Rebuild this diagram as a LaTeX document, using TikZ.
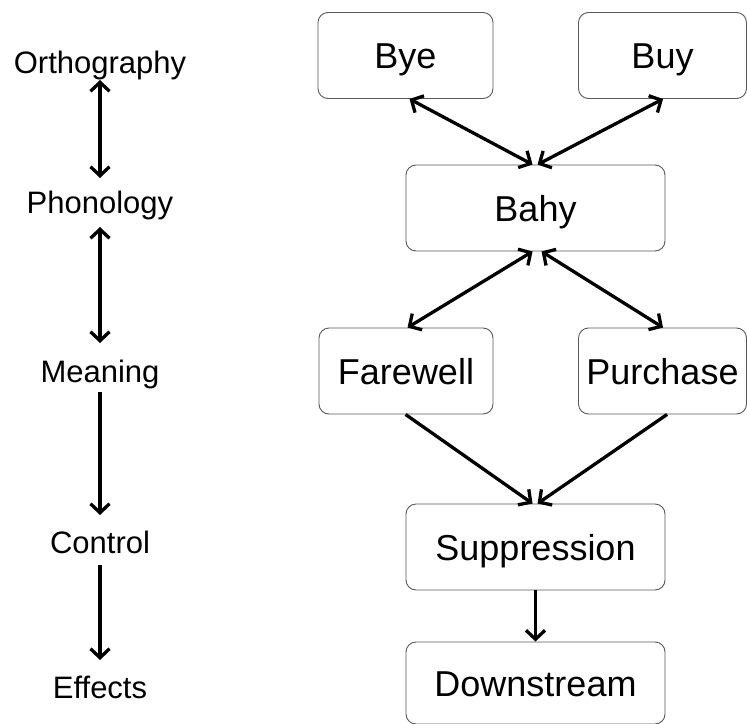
\documentclass[tikz,border=0pt]{standalone}
\usepackage{fontspec}
\setmainfont{Liberation Sans}
\usetikzlibrary{arrows.meta}
\begin{document}
\begin{tikzpicture}[x=1pt,y=-1pt,
  wbox/.style={draw=black!65,line width=0.9pt,rounded corners=10pt,fill=white,
    minimum height=86pt,inner sep=0pt,font=\fontsize{36}{40}\selectfont,
    text height=26pt,text depth=0pt},
  lab/.style={anchor=base,inner sep=0pt,font=\fontsize{31}{36}\selectfont},
  tip/.style={},
  arr/.style={line width=3.3pt,-{Straight Barb[length=9pt,width=19pt]}},
  darr/.style={line width=3.3pt,{Straight Barb[length=9pt,width=19pt]}-{Straight Barb[length=9pt,width=19pt]}}]
\useasboundingbox[fill=white] (0,0) rectangle (747,723);
% right-hand boxes
\node[wbox,minimum width=175pt] (bye) at (405.5,55.5) {Bye};
\node[wbox,minimum width=168pt] (buy) at (662.5,55.5) {Buy};
\node[wbox,minimum width=259pt] (bahy) at (535.5,208) {Bahy};
\node[wbox,minimum width=174pt] (farewell) at (406,371) {Farewell};
\node[wbox,minimum width=168pt] (purchase) at (662.5,371) {Purchase};
\node[wbox,minimum width=259pt] (supp) at (535.5,547) {Suppression};
\node[wbox,minimum width=259pt,minimum height=82pt] (down) at (535.5,683) {Downstream};
% connectors
\draw[darr] ([xshift=92pt]bye.south west) -- ([xshift=127pt]bahy.north west);
\draw[darr] ([xshift=85pt]buy.south west) -- ([xshift=132pt]bahy.north west);
\draw[darr] ([xshift=127pt]bahy.south west) -- ([xshift=89pt]farewell.north west);
\draw[darr] ([xshift=136pt]bahy.south west) -- ([xshift=85pt]purchase.north west);
\draw[arr] ([xshift=87pt]farewell.south west) -- ([xshift=127pt]supp.north west);
\draw[arr] ([xshift=89pt]purchase.south west) -- ([xshift=132pt]supp.north west);
\draw[arr] (supp.south) -- (down.north);
% left-hand labels
\node[lab] (ortho) at (100,73) {Orthography};
\node[lab] (phon) at (100,213) {Phonology};
\node[lab] (mean) at (100,382) {Meaning};
\node[lab] (ctrl) at (100,553) {Control};
\node[lab] (eff) at (100,698) {Effects};
\draw[darr] ([yshift=-7pt]ortho.base) -- ([yshift=35pt]phon.base);
\draw[darr] ([yshift=-14pt]phon.base) -- ([yshift=39pt]mean.base);
\draw[arr] ([yshift=-10pt]mean.base) -- ([yshift=38pt]ctrl.base);
\draw[arr] ([yshift=-12pt]ctrl.base) -- ([yshift=38pt]eff.base);
\end{tikzpicture}
\end{document}
